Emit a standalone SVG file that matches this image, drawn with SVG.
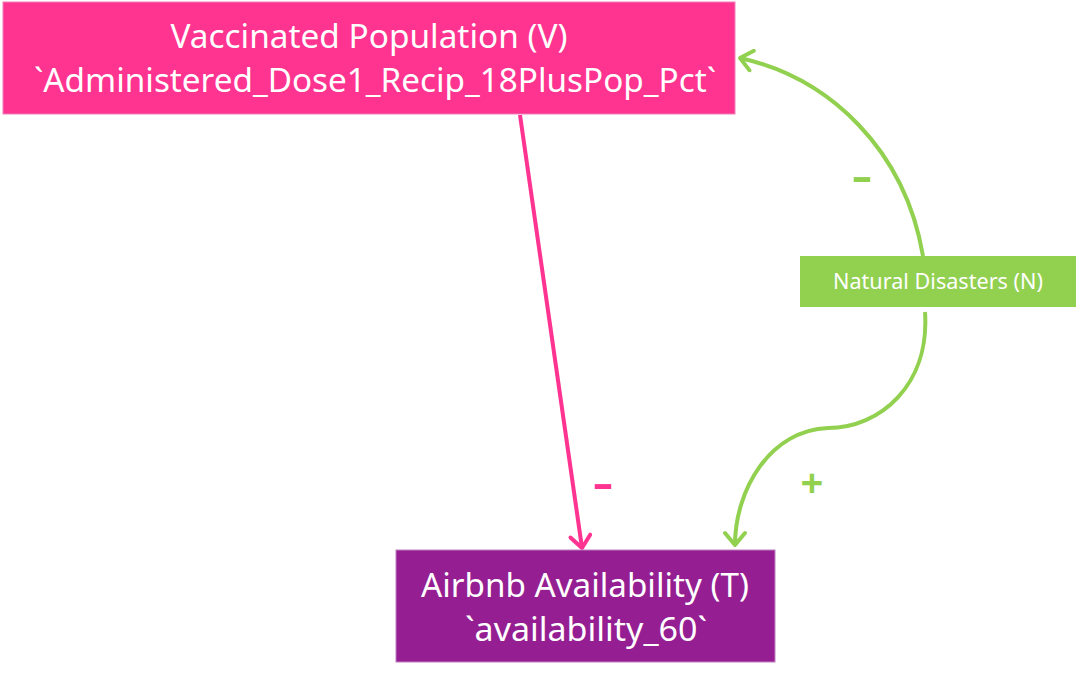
<svg xmlns="http://www.w3.org/2000/svg" width="1077" height="677" viewBox="0 0 1077 677">
<defs>
<marker id="arrPink" markerWidth="24" markerHeight="24" refX="20" refY="12" orient="auto" markerUnits="userSpaceOnUse">
<path d="M8,2 L20,12 L8,22" fill="none" stroke="#FF3390" stroke-width="4" stroke-linecap="round" stroke-linejoin="round"/>
</marker>
<marker id="arrGreen" markerWidth="24" markerHeight="24" refX="20" refY="12" orient="auto" markerUnits="userSpaceOnUse">
<path d="M8,2 L20,12 L8,22" fill="none" stroke="#92D050" stroke-width="4" stroke-linecap="round" stroke-linejoin="round"/>
</marker>
</defs>
<style>
.t{font-family:"Noto Sans","Open Sans",sans-serif;fill:#FFFFFF;text-anchor:middle}
.big{font-size:33px}
.small{font-size:21px}
.lbl{font-family:"Noto Sans",sans-serif;font-weight:bold;text-anchor:middle}
.edge{fill:none;stroke-width:4}
</style>
<rect width="1077" height="677" fill="#FFFFFF"/>
<g id="connectors">
<path class="edge" d="M520,115 L582,548" stroke="#FF3390" marker-end="url(#arrPink)"/>
<path class="edge" d="M923,256 C905,150 830,78 740,58" stroke="#92D050" marker-end="url(#arrGreen)"/>
<path class="edge" d="M925,312 C930,385 880,428 828,428 C770,430 735,490 735,545" stroke="#92D050" marker-end="url(#arrGreen)"/>
<text class="lbl" x="603" y="497" font-size="40" fill="#FF3390" textLength="20" lengthAdjust="spacingAndGlyphs">-</text>
<text class="lbl" x="862" y="190" font-size="40" fill="#92D050" textLength="20" lengthAdjust="spacingAndGlyphs">-</text>
<text class="lbl" x="812" y="497" font-size="40" fill="#92D050">+</text>
</g>
<g id="node-V">
<rect x="3" y="2" width="732" height="112" fill="#FF3390" stroke="#F080B8" stroke-width="1"/>
<text class="t big" x="369" y="48" textLength="397" lengthAdjust="spacingAndGlyphs">Vaccinated Population (V)</text>
<text class="t big" x="375" y="92" textLength="682" lengthAdjust="spacingAndGlyphs">`Administered_Dose1_Recip_18PlusPop_Pct`</text>
</g>
<g id="node-T">
<rect x="396" y="550" width="379" height="112" fill="#951F92" stroke="#C080C0" stroke-width="1"/>
<text class="t big" x="585" y="597" textLength="328" lengthAdjust="spacingAndGlyphs">Airbnb Availability (T)</text>
<text class="t big" x="586" y="641" textLength="242" lengthAdjust="spacingAndGlyphs">`availability_60`</text>
</g>
<g id="node-N">
<rect x="800" y="256" width="276" height="51" fill="#92D050"/>
<text class="t small" x="938" y="289" textLength="210" lengthAdjust="spacingAndGlyphs">Natural Disasters (N)</text>
</g>
</svg>
